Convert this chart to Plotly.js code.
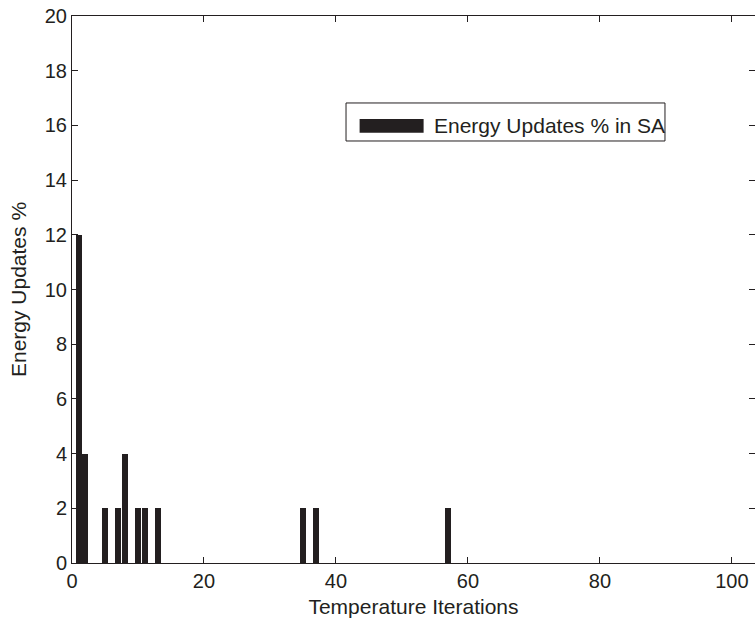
<!DOCTYPE html>
<html>
<head>
<meta charset="utf-8">
<script src="https://cdn.plot.ly/plotly-3.0.1.min.js"></script>
<style>html,body{margin:0;padding:0;background:#fff;}#chart{width:755px;height:622px;}</style>
</head>
<body>
<div id="chart"></div>
<script>
// Data
const iterations = [1, 2, 5, 7, 8, 10, 11, 13, 35, 37, 57];
const energyUpdates = [12, 4, 2, 2, 4, 2, 2, 2, 2, 2, 2];
const seriesName = 'Energy Updates % in SA';
const xTitle = 'Temperature Iterations';
const yTitle = 'Energy Updates %';

const ink = '#231f20';
const fontFam = '"Liberation Sans", Arial, Helvetica, sans-serif';

const trace = {
  type: 'bar',
  x: iterations,
  y: energyUpdates,
  name: seriesName,
  width: 0.9,
  marker: {color: ink, line: {width: 0}},
  showlegend: false,
  hoverinfo: 'x+y'
};

const layout = {
  width: 755,
  height: 622,
  margin: {l: 72, r: 0, t: 16, b: 59},
  paper_bgcolor: '#ffffff',
  plot_bgcolor: '#ffffff',
  font: {family: fontFam, size: 20, color: ink},
  bargap: 0,
  xaxis: {
    range: [0, 103.5],
    tickvals: [0, 20, 40, 60, 80, 100],
    ticks: 'inside',
    ticklen: 6,
    tickwidth: 1,
    tickcolor: ink,
    showline: true,
    linecolor: ink,
    linewidth: 1,
    mirror: 'ticks',
    showgrid: false,
    zeroline: false,
    tickfont: {size: 20, color: ink},
    title: {text: xTitle, font: {size: 21, color: ink}, standoff: 8}
  },
  yaxis: {
    range: [0, 20],
    tickvals: [0, 2, 4, 6, 8, 10, 12, 14, 16, 18, 20],
    ticks: 'inside',
    ticklen: 6,
    tickwidth: 1,
    tickcolor: ink,
    showline: true,
    linecolor: ink,
    linewidth: 1,
    mirror: 'ticks',
    showgrid: false,
    zeroline: false,
    tickfont: {size: 20, color: ink},
    title: {text: yTitle, font: {size: 21, color: ink}, standoff: 12}
  },
  shapes: [
    {type: 'rect', xref: 'paper', yref: 'paper', x0: 0.4012, x1: 0.8682, y0: 0.7715, y1: 0.841,
     line: {color: ink, width: 1}, fillcolor: '#ffffff'},
    {type: 'rect', xref: 'paper', yref: 'paper', x0: 0.4211, x1: 0.5148, y0: 0.7867, y1: 0.8117,
     line: {width: 0}, fillcolor: ink}
  ],
  annotations: [
    {xref: 'paper', yref: 'paper', x: 0.5266, y: 0.8007, xanchor: 'left', yanchor: 'middle',
     text: seriesName, showarrow: false, font: {size: 21, color: ink}}
  ]
};

Plotly.newPlot('chart', [trace], layout, {displayModeBar: false, staticPlot: true});
</script>
</body>
</html>
